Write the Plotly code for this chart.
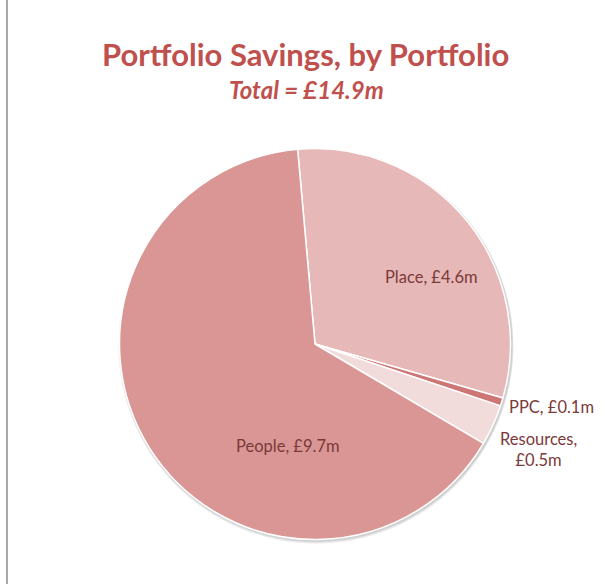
import plotly.graph_objects as go

labels = ["Place", "PPC", "Resources", "People"]
values = [4.6, 0.1, 0.5, 9.7]
colors = ["#e6b8b7", "#cc7775", "#f2dcdb", "#d99694"]
label_breaks = ["", "", "<br>", ""]
# label anchor positions in pixels (from the top-left of the chart)
label_px = [(431, 277), (551, 407), (538, 449), (288, 446)]

W, H = 613, 584
cx, cy, r = 315, 344, 195.5
FONT = "Lato, Open Sans, sans-serif"

fig = go.Figure(go.Pie(
    labels=labels,
    values=values,
    textinfo="none",
    sort=False,
    direction="clockwise",
    rotation=-5.1,
    marker=dict(colors=colors, line=dict(color="white", width=1.5)),
    domain=dict(x=[(cx - r) / W, (cx + r) / W], y=[(H - cy - r) / H, (H - cy + r) / H]),
    showlegend=False,
    hoverinfo="label+value",
))

annotations = [
    dict(text="<b>Portfolio Savings, by Portfolio</b>", x=305 / W, y=1 - 54 / H,
         xref="paper", yref="paper", showarrow=False, xanchor="center", yanchor="middle",
         font=dict(family=FONT, size=31, color="#c0504d")),
    dict(text="<b><i>Total = £%.1fm</i></b>" % sum(values), x=306 / W, y=1 - 89 / H,
         xref="paper", yref="paper", showarrow=False, xanchor="center", yanchor="middle",
         font=dict(family=FONT, size=24, color="#c0504d")),
]
for lab, val, brk, (px, py) in zip(labels, values, label_breaks, label_px):
    annotations.append(dict(
        text="%s,%s£%.1fm" % (lab, brk if brk else " ", val),
        x=px / W, y=1 - py / H, xref="paper", yref="paper", showarrow=False,
        xanchor="center", yanchor="middle", align="center",
        font=dict(family=FONT, size=16.5, color="#7b3a3a"),
    ))

# soft shadow around the pie
shadow = []
for off, col in [(4, "#ececec"), (3, "#dedede"), (2, "#cfcfcf")]:
    shadow.append(dict(type="circle", xref="paper", yref="paper", layer="below",
                       x0=(cx - r - off / 2 + 1) / W, x1=(cx + r + off / 2 + 1) / W,
                       y0=1 - (cy + r + off) / H, y1=1 - (cy - r - off / 2 + 2) / H,
                       fillcolor=col, line=dict(width=0)))

fig.update_layout(
    width=W, height=H,
    margin=dict(l=0, r=0, t=0, b=0),
    paper_bgcolor="white",
    plot_bgcolor="white",
    annotations=annotations,
    shapes=shadow + [
        dict(type="line", xref="paper", yref="paper", x0=7 / W, x1=7 / W, y0=0, y1=1,
             line=dict(color="#8c8c8c", width=1.5)),
    ],
)

fig.write_html("out.html", config={"displayModeBar": False},
               post_script="document.body.style.margin='0px';")
